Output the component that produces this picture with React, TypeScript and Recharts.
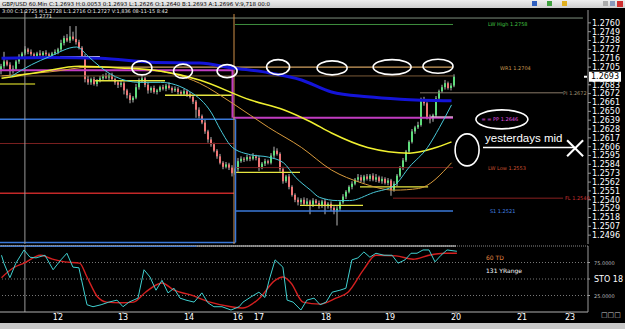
import React from "react";
import {
  ComposedChart,
  Bar,
  Line,
  XAxis,
  YAxis,
  ReferenceLine,
  ReferenceDot,
} from "recharts";

// GBP/USD H1 closes (one per candle slot)
const closes = [
  1.2706, 1.2712, 1.2708, 1.27, 1.2703, 1.2712, 1.2718, 1.2722, 1.2727, 1.2724,
  1.2721, 1.2719, 1.2722, 1.272, 1.2723, 1.2721, 1.2719, 1.2722, 1.2724, 1.2727,
  1.2735, 1.2741, 1.2738, 1.2743, 1.274, 1.2736, 1.2729, 1.2718, 1.269, 1.2686,
  1.269, 1.2684, 1.2688, 1.2691, 1.2694, 1.2692, 1.2695, 1.269, 1.2686, 1.2683,
  1.2685, 1.2676, 1.267, 1.2664, 1.2667, 1.268, 1.2688, 1.2691, 1.2683, 1.2676,
  1.2679, 1.2674, 1.2676, 1.268, 1.2678, 1.2682, 1.2679, 1.2676, 1.2678, 1.2674,
  1.2672, 1.2675, 1.2671, 1.2668, 1.2662, 1.2652, 1.2644, 1.2636, 1.2625, 1.2615,
  1.2609, 1.2601, 1.2594, 1.2586, 1.2581, 1.2584, 1.258, 1.2573, 1.2578, 1.2588,
  1.2591, 1.259, 1.2593, 1.2591, 1.2594, 1.2592, 1.258, 1.2585, 1.2588, 1.2586,
  1.2595, 1.2601, 1.2597, 1.2578, 1.2563, 1.2569, 1.2556, 1.2546, 1.254, 1.2537,
  1.254, 1.2535, 1.2538, 1.2534, 1.2539, 1.2536, 1.2533, 1.2538, 1.2532, 1.2535,
  1.253, 1.2525, 1.2529, 1.2537, 1.2544, 1.255, 1.2556, 1.256, 1.2565, 1.2568,
  1.2564, 1.2569, 1.2566, 1.257, 1.2565, 1.2568, 1.2563, 1.2566, 1.2561, 1.2564,
  1.2552, 1.256, 1.257, 1.258, 1.2589, 1.26, 1.2612, 1.2625, 1.263, 1.2633,
  1.2664, 1.266, 1.2643, 1.264, 1.2645, 1.2666, 1.2675, 1.268, 1.2685, 1.2679,
  1.2682, 1.2693,
];
const firstOpen = 1.27;

// wick lengths beyond the body, in pips
const wickUp = [
  3, 12, 2, 3, 4, 2, 3, 2, 4, 2, 3, 2, 2, 4, 2, 3, 2, 2, 3, 2,
  4, 3, 5, 13, 6, 16, 3, 2, 3, 4, 2, 3, 2, 3, 2, 4, 2, 3, 2, 2,
  3, 2, 2, 3, 2, 4, 3, 5, 2, 3, 2, 3, 2, 2, 3, 2, 4, 2, 3, 2,
  2, 3, 2, 3, 2, 2, 3, 2, 4, 2, 3, 2, 2, 3, 2, 3, 2, 3, 2, 4,
  3, 2, 3, 2, 4, 2, 3, 2, 3, 2, 3, 5, 3, 2, 3, 2, 3, 2, 2, 3,
  2, 3, 4, 2, 3, 2, 3, 2, 3, 2, 3, 2, 3, 2, 3, 2, 2, 3, 2, 4,
  3, 2, 3, 2, 3, 4, 2, 3, 2, 3, 2, 3, 2, 2, 3, 2, 2, 3, 2, 4,
  3, 4, 2, 3, 2, 3, 2, 3, 4, 2, 3, 3,
];
const wickDn = [
  4, 3, 2, 6, 3, 2, 3, 2, 2, 3, 2, 3, 2, 2, 3, 2, 3, 2, 2, 3,
  2, 3, 2, 3, 2, 3, 2, 3, 4, 3, 3, 2, 3, 2, 3, 2, 3, 2, 3, 4,
  3, 5, 4, 4, 3, 2, 3, 2, 3, 4, 3, 2, 3, 2, 2, 3, 2, 3, 2, 3,
  3, 2, 3, 2, 3, 10, 3, 2, 3, 4, 3, 2, 3, 2, 3, 2, 3, 4, 2, 3,
  2, 3, 2, 3, 2, 3, 4, 2, 3, 2, 2, 3, 2, 3, 3, 2, 3, 2, 3, 4,
  3, 2, 3, 12, 3, 2, 4, 3, 10, 3, 4, 3, 17, 3, 2, 3, 2, 3, 2, 3,
  2, 3, 2, 3, 2, 3, 2, 3, 2, 3, 7, 2, 3, 2, 3, 2, 3, 2, 3, 2,
  2, 3, 3, 5, 3, 2, 3, 2, 3, 2, 3, 2,
];

const priceTicks = [
  1.276, 1.2749, 1.2738, 1.2727, 1.2716, 1.2705, 1.2683, 1.2672, 1.2661,
  1.265, 1.2639, 1.2628, 1.2617, 1.2606, 1.2595, 1.2584, 1.2573, 1.2562,
  1.2551, 1.254, 1.2529, 1.2518, 1.2507, 1.2496,
];

// moving averages as [candle slot, price]
const maBlue = [
  [0, 1.2716], [16, 1.2717], [33, 1.2716], [50, 1.2711], [66, 1.271], [77, 1.2704],
  [89, 1.2698], [100, 1.2689], [110, 1.2674], [122, 1.2668], [133, 1.2665], [150, 1.2663],
];
const maYellow = [
  [0, 1.2691], [13, 1.2699], [26, 1.2706], [40, 1.2704], [53, 1.27], [66, 1.2689],
  [83, 1.2664], [94, 1.2652], [103, 1.2637], [110, 1.2623], [122, 1.2605],
  [136, 1.2598], [144, 1.2604], [150, 1.2612],
];
const maOrange = [
  [0, 1.2694], [16, 1.2699], [30, 1.2705], [50, 1.2701], [66, 1.2685], [77, 1.266],
  [89, 1.263], [100, 1.2605], [110, 1.2577], [120, 1.2561], [131, 1.2552],
  [139, 1.2554], [150, 1.2586],
];
const maCyan = [
  [3, 1.2693], [10, 1.2708], [16, 1.2718], [25, 1.273], [29, 1.2718], [33, 1.2705],
  [38, 1.2693], [46, 1.2686], [53, 1.2686], [63, 1.2674], [70, 1.2648], [73, 1.2627],
  [77, 1.2605], [83, 1.2596], [89, 1.2593], [94, 1.2586], [98, 1.2568], [103, 1.2552],
  [106, 1.2543], [112, 1.2539], [116, 1.2539], [124, 1.2549], [131, 1.2558],
  [136, 1.2581], [142, 1.2605], [146, 1.263], [150, 1.2658],
];

// stochastic %K and %D as [candle slot, value]
const stoK = [
  [0, 86], [0.8, 74], [2.8, 52], [4.8, 74], [7.5, 94], [9.5, 83], [11.5, 82], [14.5, 86],
  [17.2, 64], [19.8, 79], [21.8, 89], [23.8, 68], [25.8, 67], [28.5, 11], [30.5, 8],
  [33.2, 11], [35.8, 15], [38.5, 18], [40.5, 8], [42.5, 15], [45.5, 21], [47.5, 64],
  [49.5, 53], [51.5, 33], [53.5, 48], [55.5, 29], [57.5, 36], [59.5, 21], [61.5, 18],
  [64.2, 15], [66.8, 29], [68.8, 14], [70.8, 8], [73.5, 8], [76.5, 3], [79.2, 8],
  [80.5, 15], [83.2, 23], [85.8, 30], [87.8, 22], [89.2, 48], [91.2, 79], [93.8, 68],
  [95.2, 18], [97.2, 15], [99.8, 3], [101.8, 18], [104.2, 21], [106.2, 11], [108.2, 15],
  [110.2, 30], [112.8, 33], [114.8, 36], [116.8, 79], [118.8, 82], [120.8, 91],
  [122.8, 83], [124.8, 89], [127.5, 86], [130.2, 86], [132.2, 74], [134.5, 79],
  [136.5, 89], [138.5, 89], [140.5, 94], [142.5, 94], [144.5, 76], [146.5, 86],
  [148.5, 94], [151.8, 92],
];
const stoD = [
  [0, 52], [4, 67], [7.5, 74], [13, 86], [17, 80], [21, 76], [26, 74], [28.5, 53],
  [32, 23], [35, 15], [40, 14], [44, 15], [48, 30], [53.5, 44], [57.5, 33], [63, 26],
  [69.5, 15], [76.5, 8], [80.5, 6], [85.8, 20], [91.2, 48], [93.8, 53], [96.5, 44],
  [100.5, 15], [106.2, 12], [111.5, 21], [115.5, 30], [120.8, 65], [124.8, 86],
  [131.5, 85], [137.2, 80], [142.5, 86], [147.8, 89], [151.8, 89],
];

const dayLabels = ["12", "13", "14", "16", "17", "18", "19", "20", "21", "23"];
const daySlots = [18.8, 40.5, 62.5, 78.8, 85.8, 108.2, 129.5, 151.5, 173.5, 189.5];

const PIP = 0.0001;
const X_DOMAIN: [number, number] = [-0.5, 195.5];

const candles = closes.map((c, i) => {
  const o = i === 0 ? firstOpen : closes[i - 1];
  return {
    i,
    o,
    c,
    hi: Math.max(o, c) + wickUp[i] * PIP,
    lo: Math.min(o, c) - wickDn[i] * PIP,
  };
});
const pts = (arr: number[][]) => arr.map(([i, v]) => ({ i, v }));

const Candle = (props: any) => {
  const { x, y, width, height, payload } = props;
  if (!payload || height == null) return null;
  const top = Math.min(y, y + height);
  const h = Math.abs(height);
  const k = h / (payload.hi - payload.lo);
  const bodyTop = top + (payload.hi - Math.max(payload.o, payload.c)) * k;
  const bodyH = Math.max(1, Math.abs(payload.o - payload.c) * k);
  const up = payload.c >= payload.o;
  return (
    <g>
      <rect x={x + width / 2 - 0.5} y={top} width={1} height={h} fill="#b8b8b8" />
      <rect x={x} y={bodyTop} width={width} height={bodyH} fill={up ? "#5fdc7c" : "#ee7676"} />
    </g>
  );
};

const SMALL = "DejaVu Sans";

const textShape = (text: string, color: string, size: number, family = SMALL) => (p: any) => (
  <text x={p.cx} y={p.cy} fill={color} fontSize={size} fontFamily={family} dominantBaseline="central">
    {text}
  </text>
);
const ellipseShape = (rx: number, ry: number) => (p: any) => (
  <ellipse cx={p.cx} cy={p.cy} rx={rx} ry={ry} fill="none" stroke="#ffffff" strokeWidth={1.6} />
);
const crossShape = (p: any) => (
  <g stroke="#ffffff" strokeWidth={2}>
    <line x1={p.cx - 8} y1={p.cy - 8} x2={p.cx + 8} y2={p.cy + 8} />
    <line x1={p.cx - 8} y1={p.cy + 8} x2={p.cx + 8} y2={p.cy - 8} />
  </g>
);

const PriceTag = (props: any) => {
  const vb = props.viewBox || {};
  const x = vb.x + vb.width;
  const y = vb.y;
  return (
    <g>
      <rect x={x - 4} y={y - 1} width={3} height={2} fill="#ffffff" />
      <rect x={x + 1} y={y - 5} width={32} height={10} fill="#ffffff" />
      <text x={x + 3} y={y} fill="#000000" fontSize={8} fontFamily={SMALL} dominantBaseline="central">
        {props.value}
      </text>
    </g>
  );
};

// horizontal levels: price, from slot, to slot
const hSeg = (p: number, a: number, b: number, color: string, w = 1, dash?: string) => (
  <ReferenceLine
    key={`${p}-${a}-${color}`}
    segment={[{ x: a, y: p }, { x: b, y: p }]}
    stroke={color}
    strokeWidth={w}
    strokeDasharray={dash}
    ifOverflow="visible"
  />
);
const vSeg = (x: number, p1: number, p2: number, color: string, w = 1) => (
  <ReferenceLine
    key={`v${x}-${color}`}
    segment={[{ x, y: p1 }, { x, y: p2 }]}
    stroke={color}
    strokeWidth={w}
    ifOverflow="visible"
  />
);

const lastClose = closes[closes.length - 1];

export default function App() {
  return (
    <div
      style={{
        position: "absolute",
        left: 0,
        top: 0,
        width: 625,
        height: 329,
        background: "#000",
        overflow: "hidden",
      }}
    >
      <div style={{ position: "absolute", top: 0, left: 0 }}>
        <ComposedChart
          width={625}
          height={246}
          data={candles}
          margin={{ top: 10, right: 0, bottom: 2, left: 0 }}
        >
          <XAxis dataKey="i" type="number" domain={X_DOMAIN} hide allowDataOverflow />
          <YAxis
            orientation="right"
            width={37}
            domain={[1.2485, 1.2776]}
            ticks={priceTicks}
            interval={0}
            allowDataOverflow
            tickFormatter={(v: number) => v.toFixed(4)}
            tick={{ fill: "#ffffff", fontSize: 8, fontFamily: SMALL }}
            tickSize={3}
            tickMargin={1}
            axisLine={{ stroke: "#9a9a9a" }}
            tickLine={{ stroke: "#9a9a9a" }}
          />

          {hSeg(1.2766, -0.5, 193.8, "#7f8f7f")}
          {hSeg(1.2758, 77.8, 150.5, "#3f8f3f")}
          {hSeg(1.2694, -0.5, 150.5, "#7a5a38")}
          {hSeg(1.2705, 26, 150.5, "#d0a060", 1.3)}
          {hSeg(1.2701, -0.5, 77.2, "#c23cc2", 2)}
          {hSeg(1.2642, 77.2, 150.5, "#c23cc2", 2)}
          {hSeg(1.2643, 143, 150.5, "#f0d0e0")}
          {hSeg(1.264, -0.5, 78, "#3a78d8", 1.5)}
          {hSeg(1.261, -0.5, 77.5, "#7a2020")}
          {hSeg(1.2548, -0.5, 77.5, "#c42828", 1.5)}
          {hSeg(1.2487, -0.5, 78, "#3a78d8", 1.5)}
          {hSeg(1.258, 78, 150.5, "#7a2020")}
          {hSeg(1.2542, 130.5, 187.2, "#8a2020")}
          {hSeg(1.2526, 78, 150.5, "#3a78d8", 1.5)}
          {hSeg(1.2673, 139.5, 187.2, "#8a7a68")}
          {hSeg(1.2684, -0.5, 11.2, "#a8a820", 1.5)}
          {hSeg(1.2718, 19.5, 32.8, "#f0f0f0", 1.3)}
          {hSeg(1.2688, 31.2, 54.5, "#e6e640", 1.3)}
          {hSeg(1.267, 54.5, 77, "#e6e640", 1.3)}
          {hSeg(1.2574, 78, 99.5, "#e6e640", 1.3)}
          {hSeg(1.2533, 99.5, 120.5, "#e6e640", 1.3)}
          {hSeg(1.2556, 119.5, 142.2, "#e6e640", 1.3)}
          {hSeg(1.2605, 160.5, 191, "#ffffff", 1.5)}

          {vSeg(7.8, 1.2776, 1.2485, "#9a9a9a")}
          {vSeg(77.5, 1.2771, 1.2485, "#d09048")}
          {vSeg(77, 1.2701, 1.2642, "#c23cc2", 2)}
          {vSeg(78, 1.264, 1.2487, "#3a78d8", 1.5)}

          <Line data={pts(maOrange)} dataKey="v" type="monotone" stroke="#d89a3c" strokeWidth={1} dot={false} isAnimationActive={false} />
          <Line data={pts(maYellow)} dataKey="v" type="monotone" stroke="#f0f030" strokeWidth={1.5} dot={false} isAnimationActive={false} />
          <Line data={pts(maBlue)} dataKey="v" type="monotone" stroke="#1414d8" strokeWidth={3} dot={false} isAnimationActive={false} />

          <Bar dataKey={(d: any) => [d.lo, d.hi]} barSize={2} shape={Candle} isAnimationActive={false} />

          <Line data={pts(maCyan)} dataKey="v" type="monotone" stroke="#48c8d8" strokeWidth={1} dot={false} isAnimationActive={false} />

          <ReferenceLine y={lastClose} stroke="none" label={<PriceTag value={lastClose.toFixed(4)} />} />

          <ReferenceDot x={46.8} y={1.2704} shape={ellipseShape(10, 7)} />
          <ReferenceDot x={60.5} y={1.27} shape={ellipseShape(9.5, 7)} />
          <ReferenceDot x={75.2} y={1.27} shape={ellipseShape(10, 6.5)} />
          <ReferenceDot x={92.2} y={1.2705} shape={ellipseShape(11.5, 7.5)} />
          <ReferenceDot x={110.2} y={1.2704} shape={ellipseShape(15, 7)} />
          <ReferenceDot x={130.2} y={1.2705} shape={ellipseShape(19, 7.5)} />
          <ReferenceDot x={145.5} y={1.2706} shape={ellipseShape(15, 7)} />
          <ReferenceDot x={166.8} y={1.264} shape={ellipseShape(26, 9.5)} />
          <ReferenceDot x={155.2} y={1.2602} shape={ellipseShape(12, 16)} />
          <ReferenceDot x={191.2} y={1.2604} shape={crossShape} />

          <ReferenceDot x={11} y={1.2769} shape={textShape("1.2771", "#e0e0e0", 5)} />
          <ReferenceDot x={162.2} y={1.2758} shape={textShape("LW High 1.2758", "#40c040", 5)} />
          <ReferenceDot x={166.2} y={1.2704} shape={textShape("WR1 1.2704", "#c89850", 5)} />
          <ReferenceDot x={187.2} y={1.2673} shape={textShape("PI 1.2672", "#a09070", 5)} />
          <ReferenceDot x={160} y={1.264} shape={textShape("= =  PP 1.2646", "#e050e0", 5)} />
          <ReferenceDot x={162.2} y={1.2579} shape={textShape("LW Low 1.2553", "#c85030", 5)} />
          <ReferenceDot x={187.8} y={1.2542} shape={textShape("FL 1.2540", "#c83030", 5)} />
          <ReferenceDot x={162.8} y={1.2526} shape={textShape("S1 1.2521", "#4080e0", 5)} />
          <ReferenceDot x={161.2} y={1.2617} shape={textShape("yesterdays mid", "#ffffff", 11.5, "Liberation Sans")} />
        </ComposedChart>
      </div>

      <div style={{ position: "absolute", top: 245, left: 0 }}>
        <ComposedChart width={625} height={77} margin={{ top: 1, right: 0, bottom: 0, left: 0 }}>
          <XAxis
            dataKey="i"
            type="number"
            domain={X_DOMAIN}
            allowDataOverflow
            ticks={daySlots}
            interval={0}
            height={10}
            tickFormatter={(v: number) => dayLabels[daySlots.indexOf(v)] ?? ""}
            tick={{ fill: "#ffffff", fontSize: 8, fontFamily: SMALL }}
            tickSize={2}
            tickMargin={0}
            axisLine={{ stroke: "#b0b0b0" }}
            tickLine={{ stroke: "#b0b0b0" }}
          />
          <YAxis
            orientation="right"
            width={37}
            domain={[0, 100]}
            ticks={[25, 50, 75]}
            interval={0}
            axisLine={{ stroke: "#9a9a9a" }}
            tickLine={{ stroke: "#9a9a9a" }}
            tickSize={2}
            tick={(p: any) => (
              <text
                x={p.x + 2}
                y={p.y}
                fill={p.payload.value === 50 ? "#ffffff" : "#bbbbbb"}
                fontSize={p.payload.value === 50 ? 8 : 5}
                fontFamily={SMALL}
                dominantBaseline="central"
              >
                {p.payload.value === 50 ? "STO 18" : `${p.payload.value}.0000`}
              </text>
            )}
          />
          <ReferenceLine y={100} stroke="#888888" strokeDasharray="1 1" />
          {hSeg(100, -0.5, 151.5, "#e0e0e0", 1.2)}
          {hSeg(99.5, -0.5, 65, "#3a78d8", 1)}
          <ReferenceLine y={75} stroke="#777777" strokeDasharray="1 2" />
          <ReferenceLine y={50} stroke="#777777" strokeDasharray="1 2" />
          <ReferenceLine y={25} stroke="#777777" strokeDasharray="1 2" />
          <ReferenceLine x={7.8} stroke="#9a9a9a" />

          <Line data={pts(stoD)} dataKey="v" type="monotone" stroke="#d42020" strokeWidth={1.4} dot={false} isAnimationActive={false} />
          <Line data={pts(stoK)} dataKey="v" type="linear" stroke="#40d0d0" strokeWidth={1} dot={false} isAnimationActive={false} />

          <ReferenceDot x={161.5} y={82} shape={textShape("60 TD", "#e08840", 6)} />
          <ReferenceDot x={161.5} y={63} shape={textShape("131 YRange", "#ffffff", 6)} />
        </ComposedChart>
      </div>

      <div
        style={{
          position: "absolute",
          top: 0,
          left: 0,
          width: 625,
          height: 8,
          background: "linear-gradient(#eeeeee, #cfcfcf)",
          fontFamily: SMALL,
          fontSize: 5.5,
          lineHeight: "8px",
          color: "#000",
          whiteSpace: "nowrap",
          paddingLeft: 2,
        }}
      >
        GBP/USD 60.Min C:1.2693 H:0.0053 0:1.2693 L:1.2626 O:1.2640 B:1.2693 A:1.2696 V:9,718 00:0
        <span style={{ position: "absolute", right: 4, top: 1, width: 6, height: 6, background: "#d03030" }} />
        <span style={{ position: "absolute", right: 12, top: 1, width: 5, height: 5, background: "#8899bb" }} />
        <span style={{ position: "absolute", right: 19, top: 1, width: 5, height: 5, background: "#aaaaaa" }} />
        <span style={{ position: "absolute", right: 60, top: 1, width: 5, height: 5, background: "#e0b020" }} />
        <span style={{ position: "absolute", right: 75, top: 1, width: 5, height: 5, background: "#40a040" }} />
        <span style={{ position: "absolute", right: 90, top: 1, width: 5, height: 5, background: "#3060c0" }} />
      </div>
      <div
        style={{
          position: "absolute",
          top: 8,
          left: 2,
          fontFamily: SMALL,
          fontSize: 5,
          color: "#e8e8e8",
          whiteSpace: "nowrap",
        }}
      >
        3:00 C:1.2725 H:1.2728 L:1.2716 O:1.2727 V:1,836 08-11-15 8:42
      </div>
      <div
        style={{
          position: "absolute",
          top: 323,
          left: 0,
          width: 625,
          height: 6,
          background: "#c8c8c8",
        }}
      />
      <div
        style={{
          position: "absolute",
          top: 311,
          left: 601,
          fontFamily: SMALL,
          fontSize: 7,
          color: "#cccccc",
        }}
      >
        □□□
      </div>
    </div>
  );
}
